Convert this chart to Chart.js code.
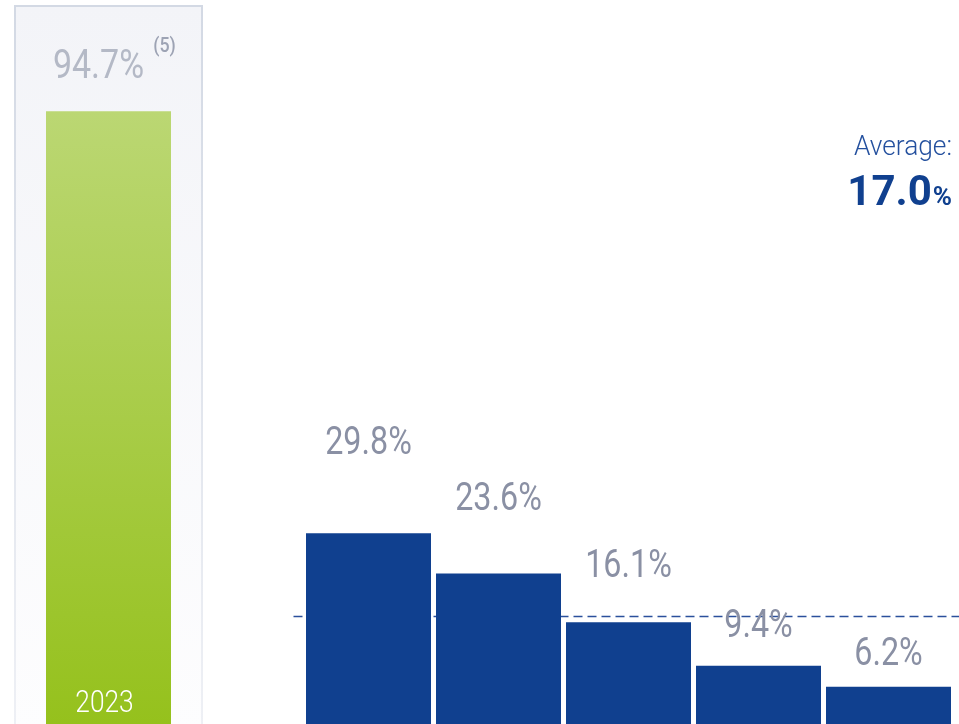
<!DOCTYPE html>
<html>
<head>
<meta charset="utf-8">
<script src="https://cdn.jsdelivr.net/npm/chart.js@4.4.0/dist/chart.umd.min.js"></script>
<style>
  html, body { margin: 0; padding: 0; background: #fff; overflow: hidden; }
  #wrap { width: 959px; height: 724px; position: relative; overflow: hidden; }
</style>
</head>
<body>
<div id="wrap"><canvas id="returnChart" width="959" height="727"></canvas></div>
<script>
// slot 0 = fund year, slot 1 = spacer, slots 2..6 = peer bars
const categories = ['2023', '', '', '', '', '', ''];
const fundValues = [94.7, null, null, null, null, null, null];
const peerValues = [null, null, 29.8, 23.6, 16.1, 9.4, 6.2];
const fundNote = '(5)';
const averageValue = 17.0;
const averageLabel = 'Average:';

const BLUE = '#10408f';
const LABEL_GREY = '#8a90a4';
const FONT = 'Roboto, "Noto Sans", sans-serif';
const NARROW = 0.85; // squeeze text horizontally to mimic a condensed face

function narrowText(ctx, text, x, y, align, squeeze) {
    ctx.save();
    ctx.translate(x, y);
    ctx.scale(squeeze || NARROW, 1);
    ctx.textAlign = align || 'center';
    ctx.fillText(text, 0, 0);
    ctx.restore();
}

function greenFill(context) {
    const chart = context.chart;
    const area = chart.chartArea;
    if (!area) return '#a6cb3c';
    const top = chart.scales.y.getPixelForValue(fundValues[0]);
    const g = chart.ctx.createLinearGradient(0, top, 0, area.bottom);
    g.addColorStop(0, '#bbd773');
    g.addColorStop(1, '#95c11c');
    return g;
}

// light framed panel behind the fund bar
const panelPlugin = {
    id: 'fundPanel',
    beforeDatasetsDraw(chart) {
        const ctx = chart.ctx;
        const cx = chart.scales.x.getPixelForValue(0);
        const left = cx - 93.5, right = cx + 93.5, top = 6, bottom = chart.height + 4;
        const bg = ctx.createLinearGradient(0, top, 0, bottom);
        bg.addColorStop(0, '#f3f4f8');
        bg.addColorStop(1, '#fdfdfe');
        const border = ctx.createLinearGradient(0, top, 0, bottom);
        border.addColorStop(0, '#d3d9e4');
        border.addColorStop(1, '#eef0f5');
        ctx.save();
        ctx.fillStyle = bg;
        ctx.fillRect(left, top, right - left, bottom - top);
        ctx.strokeStyle = border;
        ctx.lineWidth = 2;
        ctx.strokeRect(left, top, right - left, bottom - top);
        ctx.restore();
    }
};

// dashed peer average line, behind the bars
const averagePlugin = {
    id: 'averageLine',
    beforeDatasetsDraw(chart) {
        const ctx = chart.ctx;
        const y = chart.scales.y.getPixelForValue(averageValue);
        const x0 = chart.scales.x.getPixelForValue(2) - 75;
        ctx.save();
        ctx.strokeStyle = '#2b509c';
        ctx.lineWidth = 1.6;
        ctx.setLineDash([9, 5]);
        ctx.beginPath();
        ctx.moveTo(x0, y);
        ctx.lineTo(chart.width, y);
        ctx.stroke();
        ctx.restore();
    }
};

const labelPlugin = {
    id: 'valueLabels',
    afterDatasetsDraw(chart) {
        const ctx = chart.ctx;
        const yScale = chart.scales.y;
        const area = chart.chartArea;
        ctx.save();
        ctx.textBaseline = 'middle';

        // peer values, lifted higher for taller bars
        ctx.fillStyle = LABEL_GREY;
        ctx.font = '400 38px ' + FONT;
        chart.getDatasetMeta(1).data.forEach((bar, i) => {
            const v = peerValues[i];
            if (v == null) return;
            const y = yScale.getPixelForValue(v * 1.375 + 2.4);
            narrowText(ctx, v.toFixed(1) + '%', bar.x, y);
        });

        // fund value with footnote
        const fundBar = chart.getDatasetMeta(0).data[0];
        ctx.fillStyle = '#b4b9c6';
        ctx.font = '400 40px ' + FONT;
        narrowText(ctx, fundValues[0].toFixed(1) + '%', fundBar.x - 10, 68);
        ctx.fillStyle = '#9da3b4';
        ctx.font = '500 21px ' + FONT;
        narrowText(ctx, fundNote, fundBar.x + 56, 47);

        // year inside the bar
        ctx.fillStyle = '#ffffff';
        ctx.font = '300 31px ' + FONT;
        narrowText(ctx, categories[0], fundBar.x - 4, area.bottom - 23);

        // average caption, top right
        const rx = 952;
        ctx.fillStyle = '#24509e';
        ctx.font = '300 28px ' + FONT;
        narrowText(ctx, averageLabel, rx, 148, 'right', 0.94);
        ctx.fillStyle = BLUE;
        ctx.textBaseline = 'alphabetic';
        ctx.font = '700 26px ' + FONT;
        const pctW = ctx.measureText('%').width;
        narrowText(ctx, '%', rx, 205, 'right', 1);
        ctx.font = '700 42px ' + FONT;
        narrowText(ctx, averageValue.toFixed(1), rx - pctW - 1, 205, 'right', 1);
        ctx.restore();
    }
};

const chart = new Chart(document.getElementById('returnChart'), {
    type: 'bar',
    data: {
        labels: categories,
        datasets: [
            {
                label: 'Fund',
                data: fundValues,
                backgroundColor: greenFill,
                borderWidth: 0
            },
            {
                label: 'Peers',
                data: peerValues,
                backgroundColor: BLUE,
                borderWidth: 0
            }
        ]
    },
    options: {
        responsive: false,
        animation: false,
        devicePixelRatio: 1,
        layout: { padding: { left: 43.5, right: 5.5, top: 0, bottom: 0 } },
        datasets: {
            bar: {
                grouped: false,
                barPercentage: 1,
                categoryPercentage: 125 / 130
            }
        },
        plugins: {
            legend: { display: false },
            tooltip: { enabled: false }
        },
        scales: {
            x: { display: false },
            y: { display: false, min: 0, max: 111.8 }
        }
    },
    plugins: [panelPlugin, averagePlugin, labelPlugin]
});
</script>
</body>
</html>
